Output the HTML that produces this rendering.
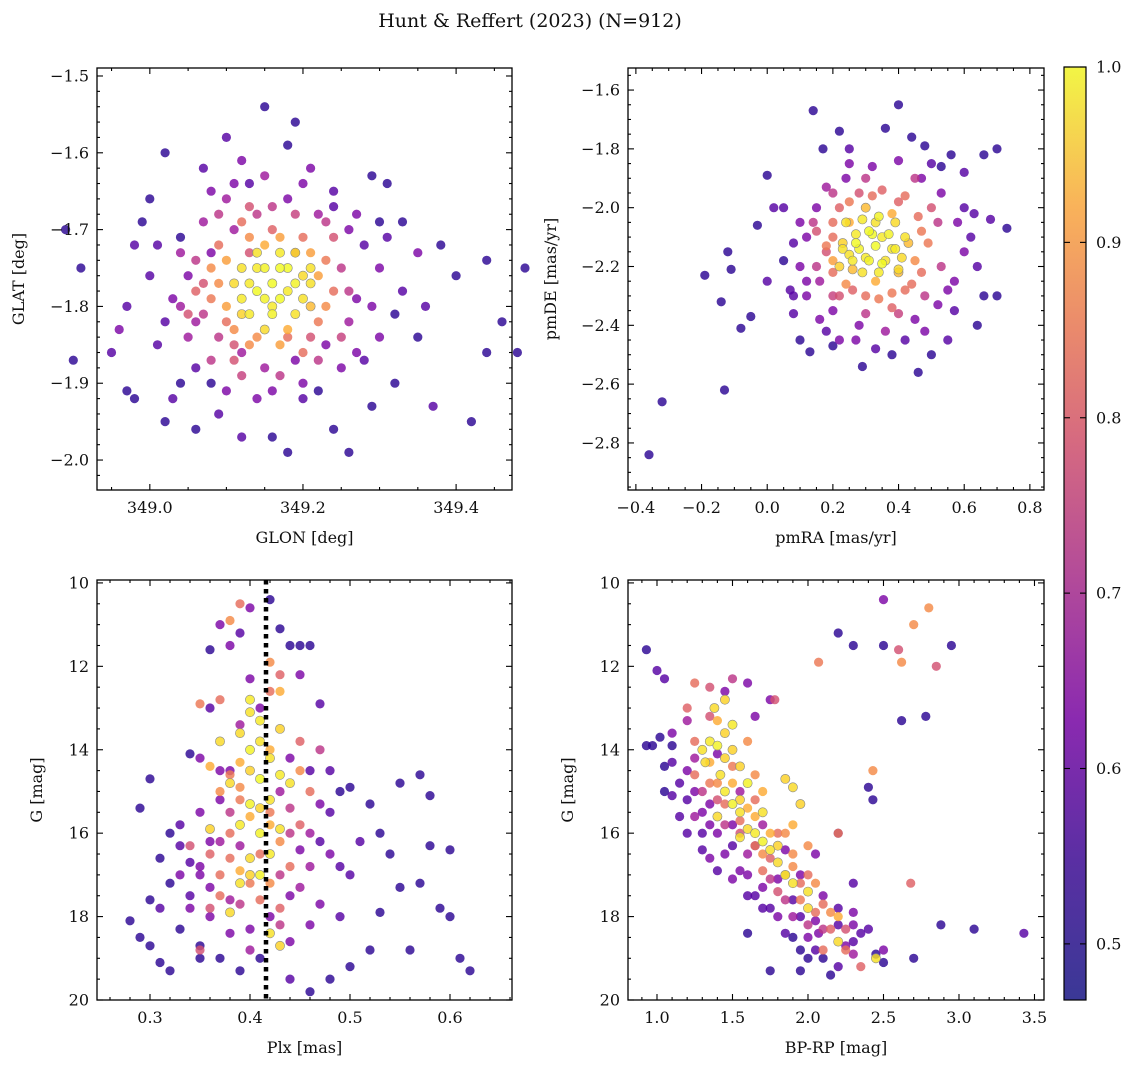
<!DOCTYPE html>
<html><head><meta charset="utf-8">
<style>
html,body{margin:0;padding:0;background:#fff;}
svg text{font-family:"DejaVu Serif","Liberation Serif",serif;fill:#111;}
</style></head>
<body>
<svg id="fig" width="1136" height="1067" viewBox="0 0 1136 1067" xmlns="http://www.w3.org/2000/svg">
<defs>
<linearGradient id="cbg" x1="0" y1="1" x2="0" y2="0">
<stop offset="0" stop-color="#3a3896"/>
<stop offset="0.15" stop-color="#5a2fa3"/>
<stop offset="0.3" stop-color="#8a2ab0"/>
<stop offset="0.45" stop-color="#b24a9a"/>
<stop offset="0.6" stop-color="#d66a80"/>
<stop offset="0.72" stop-color="#ea8a6c"/>
<stop offset="0.85" stop-color="#f9b25a"/>
<stop offset="1" stop-color="#f2f545"/>
</linearGradient>
</defs>
<text x="530" y="27" font-size="19" text-anchor="middle">Hunt &amp; Reffert (2023) (N=912)</text>
</svg>
<script>
// Panel 1: GLON / GLAT
const glon=[348.89,348.90,348.91,348.95,348.96,348.97,348.98,348.99,349.0,349.02,349.04,349.07,349.08,349.10,349.12,349.15,349.19,349.18,349.21,349.24,349.29,349.31,349.33,349.38,349.40,349.44,349.49,349.46,349.44,349.48,349.42,349.37,349.32,349.29,349.26,349.24,349.18,349.16,349.12,349.06,349.02,349.03,348.97,348.98,349.04,349.08,349.10,349.20,349.22,349.28,349.35,349.36,349.33,349.30,349.28,349.26,349.22,349.18,349.14,349.11,349.08,349.05,349.03,349.06,349.09,349.12,349.15,349.19,349.23,349.26,349.27,349.01,349.00,349.25,349.14,349.09,349.30,349.35,
349.09,349.12,349.16,349.20,349.23,349.24,349.22,349.18,349.14,349.10,349.08,349.08,349.06,349.13,349.19,349.21,349.11,349.05,
349.14,349.17,349.19,349.12,349.15,349.18,349.21,349.11,349.13,349.16,349.19,349.21,349.12,349.15,349.17,349.20,349.13,349.16,349.19,349.15];
const glat=[-1.70,-1.87,-1.75,-1.86,-1.83,-1.80,-1.72,-1.69,-1.66,-1.60,-1.71,-1.62,-1.65,-1.58,-1.61,-1.54,-1.56,-1.59,-1.62,-1.67,-1.63,-1.64,-1.69,-1.72,-1.76,-1.74,-1.75,-1.82,-1.86,-1.86,-1.95,-1.93,-1.90,-1.93,-1.99,-1.96,-1.99,-1.97,-1.97,-1.96,-1.95,-1.92,-1.91,-1.92,-1.90,-1.90,-1.91,-1.92,-1.91,-1.87,-1.84,-1.80,-1.78,-1.75,-1.72,-1.70,-1.68,-1.66,-1.68,-1.70,-1.73,-1.76,-1.79,-1.82,-1.84,-1.86,-1.88,-1.87,-1.85,-1.82,-1.79,-1.85,-1.76,-1.88,-1.92,-1.94,-1.69,-1.73,
-1.72,-1.69,-1.70,-1.71,-1.74,-1.78,-1.82,-1.84,-1.84,-1.82,-1.79,-1.75,-1.78,-1.73,-1.73,-1.84,-1.85,-1.81,
-1.73,-1.73,-1.73,-1.75,-1.75,-1.75,-1.75,-1.77,-1.77,-1.77,-1.77,-1.77,-1.79,-1.79,-1.79,-1.79,-1.81,-1.81,-1.81,-1.83];
const p1=[.5,.5,.5,.55,.6,.55,.55,.5,.5,.5,.5,.55,.6,.55,.6,.5,.5,.5,.6,.55,.5,.5,.5,.5,.5,.5,.5,.5,.5,.5,.5,.55,.5,.5,.5,.5,.5,.5,.55,.5,.5,.55,.5,.5,.5,.5,.6,.55,.5,.55,.5,.55,.55,.6,.55,.6,.65,.6,.7,.65,.6,.6,.6,.65,.7,.65,.65,.6,.6,.65,.6,.55,.55,.6,.6,.55,.5,.6,
.8,.8,.78,.8,.82,.8,.82,.8,.85,.8,.82,.85,.78,.75,.78,.75,.75,.75,
.97,.98,.96,.97,.99,1,.97,.96,.98,1,.99,.97,.98,.99,1,.97,.98,.99,.97,.96];
const glonB=[349.06,349.07,349.07,349.09,349.10,349.10,349.11,349.13,349.15,349.17,349.21,349.22,349.23,349.21,349.18,349.17,349.13,349.12,349.14,349.17,349.18,349.14,349.16,349.20,349.13,349.16,349.19,349.24,349.25,349.26,349.25,349.22,349.17,349.12,349.08,349.05,349.04,349.04,349.07,349.10,349.11,349.15,349.20,349.27,349.29,349.30,349.27,349.20,349.16,349.06,349.02,349.01,349.13,349.24,349.32,349.31,349.09,349.23,349.11,349.20];
const glatB=[-1.74,-1.77,-1.81,-1.77,-1.74,-1.80,-1.83,-1.71,-1.72,-1.71,-1.73,-1.76,-1.80,-1.80,-1.83,-1.85,-1.85,-1.81,-1.78,-1.75,-1.78,-1.75,-1.80,-1.76,-1.67,-1.67,-1.68,-1.71,-1.75,-1.78,-1.84,-1.87,-1.89,-1.89,-1.87,-1.84,-1.80,-1.73,-1.69,-1.66,-1.64,-1.63,-1.64,-1.68,-1.80,-1.84,-1.86,-1.90,-1.91,-1.88,-1.82,-1.72,-1.64,-1.65,-1.81,-1.71,-1.68,-1.69,-1.87,-1.86];
const p1B=[.7,.75,.7,.85,.88,.88,.85,.85,.9,.88,.88,.88,.85,.92,.9,.88,.85,.95,1,1,.98,.98,.98,.96,.75,.7,.72,.75,.7,.7,.72,.7,.7,.72,.7,.65,.65,.65,.65,.65,.6,.65,.6,.6,.6,.6,.6,.6,.6,.55,.55,.55,.55,.55,.5,.55,.7,.7,.75,.8];
// Panel 2: pmRA / pmDE
const pmra=[-0.36,-0.32,-0.13,-0.19,-0.14,-0.12,-0.11,-0.08,-0.05,-0.03,0.0,0.02,0.05,0.07,0.08,0.1,0.13,0.14,0.17,0.22,0.24,0.36,0.40,0.44,0.48,0.53,0.56,0.60,0.66,0.70,0.73,0.68,0.63,0.64,0.66,0.70,0.64,0.57,0.50,0.46,0.42,0.38,0.29,0.22,0.20,0.16,0.12,0.10,0.12,0.15,0.18,0.25,0.32,0.40,0.47,0.53,0.58,0.60,0.57,0.52,0.45,0.36,0.28,0.20,0.16,0.08,0.05,0.00,0.62,0.55,0.33,
0.20,0.25,0.32,0.40,0.46,0.49,0.47,0.42,0.34,0.26,0.20,0.18,0.22,0.50,0.15,0.38,
0.24,0.29,0.34,0.39,0.27,0.32,0.37,0.42,0.23,0.28,0.33,0.38,0.26,0.31,0.36,0.41,0.29,0.34,0.22,0.40];
const pmde=[-2.84,-2.66,-2.62,-2.23,-2.32,-2.15,-2.21,-2.41,-2.37,-2.06,-1.89,-2.0,-2.18,-2.28,-2.36,-2.45,-2.49,-1.67,-1.80,-1.74,-1.90,-1.73,-1.65,-1.76,-1.79,-1.86,-1.82,-1.88,-1.82,-1.80,-2.07,-2.04,-2.02,-2.20,-2.30,-2.30,-2.40,-2.35,-2.50,-2.56,-2.45,-2.50,-2.54,-2.45,-2.47,-2.38,-2.30,-2.20,-2.10,-2.00,-1.93,-1.85,-1.86,-1.84,-1.90,-1.95,-2.05,-2.15,-2.25,-2.33,-2.38,-2.42,-2.40,-2.35,-2.25,-2.12,-2.00,-2.25,-2.10,-2.45,-2.48,
-2.05,-1.98,-1.96,-1.98,-2.03,-2.12,-2.22,-2.28,-2.31,-2.28,-2.22,-2.13,-2.30,-2.0,-2.08,-2.34,
-2.05,-2.04,-2.03,-2.05,-2.09,-2.09,-2.09,-2.10,-2.14,-2.14,-2.13,-2.14,-2.18,-2.18,-2.18,-2.17,-2.22,-2.22,-2.20,-2.21];
const p2=[.5,.5,.5,.5,.5,.5,.5,.5,.5,.5,.5,.55,.5,.55,.55,.5,.5,.5,.5,.5,.6,.5,.5,.5,.5,.5,.5,.55,.5,.5,.5,.55,.55,.55,.5,.5,.5,.55,.5,.5,.55,.5,.5,.6,.5,.6,.6,.6,.6,.6,.65,.6,.6,.6,.6,.6,.6,.6,.6,.6,.6,.65,.6,.6,.65,.55,.55,.55,.55,.55,.55,
.8,.82,.8,.78,.8,.82,.8,.8,.82,.78,.8,.82,.75,.75,.75,.78,
.97,.98,.99,.96,.98,1,.99,.97,.97,.99,1,.98,.98,.99,.97,.96,.97,.98,.95,.96];
const pmraB=[0.18,0.20,0.22,0.28,0.35,0.42,0.47,0.45,0.44,0.38,0.30,0.24,0.20,0.25,0.30,0.38,0.43,0.40,0.33,0.26,0.23,0.27,0.31,0.35,0.39,0.35,0.30,0.25,0.33,0.15,0.14,0.20,0.30,0.45,0.52,0.53,0.48,0.40,0.30,0.20,0.12,0.10,0.25,0.55,0.50,0.60,0.18,0.08,0.48,0.27];
const pmdeB=[-2.15,-2.10,-2.00,-1.95,-1.94,-1.96,-2.08,-2.18,-2.26,-2.29,-2.30,-2.26,-2.18,-2.05,-2.00,-2.02,-2.12,-2.22,-2.25,-2.21,-2.12,-2.12,-2.08,-2.10,-2.14,-2.19,-2.17,-2.16,-2.05,-2.20,-2.05,-1.95,-1.90,-1.90,-2.05,-2.20,-2.30,-2.36,-2.36,-2.30,-2.25,-2.05,-1.80,-2.28,-1.85,-2.00,-2.42,-2.30,-2.42,-2.45];
const p2B=[.75,.8,.78,.75,.78,.8,.82,.85,.8,.82,.8,.85,.88,.9,.92,.9,.92,.92,.9,.92,.95,1,1,.98,.98,1,.98,.97,.97,.7,.7,.7,.7,.7,.7,.7,.7,.72,.7,.72,.6,.6,.55,.6,.55,.55,.55,.55,.6,.6];
// Panel 3: Plx / G
const plx=[0.28,0.29,0.30,0.29,0.30,0.31,0.32,0.31,0.30,0.32,0.33,0.33,0.34,0.34,0.35,0.35,0.34,0.36,0.37,0.39,0.38,0.40,0.42,0.43,0.44,0.45,0.46,0.45,0.47,0.48,0.49,0.50,0.52,0.53,0.55,0.57,0.58,0.58,0.60,0.59,0.60,0.61,0.62,0.56,0.55,0.53,0.52,0.50,0.48,0.46,0.44,0.41,0.39,0.37,0.32,0.35,0.36,0.37,0.38,0.48,0.50,0.51,0.47,0.46,0.49,0.54,0.57,0.33,0.36,0.38,0.40,0.44,0.42,0.45,0.46,0.47,0.35,0.39,0.43,0.44,0.41,0.40,0.39,0.46,
0.37,0.35,0.38,0.39,0.42,0.43,0.38,0.36,0.37,0.38,0.42,0.45,0.44,0.40,0.43,0.36,0.35,0.41,0.39,0.45,0.46,0.34,
0.40,0.41,0.39,0.40,0.42,0.38,0.41,0.43,0.40,0.42,0.39,0.41,0.43,0.40,0.42,0.39,0.41,0.38,0.42,0.43,0.37,0.44,0.36,0.40];
const gmag3=[18.1,18.5,17.6,15.4,14.7,16.6,17.2,19.1,18.7,16.0,15.8,18.3,17.5,16.7,19.0,18.7,14.1,11.6,11.0,11.2,11.5,10.6,10.4,11.1,11.5,11.5,11.5,12.2,12.9,14.5,15.0,14.9,15.3,16.0,14.8,14.6,15.1,16.3,16.4,17.8,18.0,19.0,19.3,18.8,17.3,17.9,18.8,19.2,19.5,19.8,19.5,19.0,19.3,19.0,19.3,17.0,16.2,15.2,14.5,16.5,17.0,16.2,17.7,18.2,18.0,16.5,17.2,17.0,18.0,17.6,18.3,18.6,18.0,17.3,16.0,15.3,15.5,16.3,15.0,14.2,13.0,12.3,13.4,14.5,
12.8,12.9,10.9,10.5,12.6,12.2,14.6,16.5,17.5,16.0,15.5,15.8,16.8,17.2,17.8,17.8,18.8,16.5,15.2,13.8,15.0,16.3,
13.1,13.3,13.6,14.0,14.2,14.8,14.7,14.6,15.3,15.2,15.8,16.0,15.9,16.6,16.5,17.2,17.0,17.9,18.4,18.7,13.8,14.8,15.9,12.8];
const p3=[.5,.5,.5,.5,.5,.5,.5,.5,.5,.5,.55,.5,.55,.55,.5,.5,.5,.5,.6,.55,.6,.6,.5,.5,.5,.5,.5,.6,.55,.55,.5,.5,.5,.5,.5,.5,.5,.5,.5,.5,.5,.5,.5,.5,.5,.5,.5,.5,.5,.5,.55,.5,.5,.5,.5,.6,.6,.6,.6,.6,.55,.55,.6,.6,.55,.5,.5,.6,.6,.65,.6,.6,.6,.65,.65,.6,.6,.65,.65,.6,.6,.6,.65,.55,
.8,.82,.85,.8,.8,.78,.82,.78,.8,.8,.82,.78,.8,.82,.78,.75,.75,.8,.82,.78,.8,.75,
.97,.98,.96,.99,.97,.96,1,.98,.99,.97,.98,.99,.97,.96,.98,.97,.99,.96,.97,.95,.96,.97,.95,.98];
const plxB=[0.37,0.38,0.39,0.40,0.41,0.42,0.43,0.44,0.45,0.44,0.38,0.37,0.39,0.40,0.42,0.43,0.41,0.39,0.37,0.36,0.35,0.34,0.40,0.42,0.43,0.41,0.39,0.37,0.36,0.45,0.46,0.47,0.44,0.38,0.40,0.43,0.33,0.31,0.35,0.48,0.49,0.36,0.42,0.43,0.47];
const gmag3B=[14.5,15.5,14.9,15.6,15.4,15.8,16.2,16.0,16.4,15.4,16.6,16.2,16.9,17.0,17.2,17.0,17.6,17.7,17.0,17.3,16.8,17.8,14.5,14.0,13.5,13.8,14.3,15.0,14.4,14.5,16.8,16.2,17.5,18.4,18.8,18.2,16.3,17.8,14.2,15.5,16.8,13.0,11.9,12.6,14.0];
const p3B=[.6,.7,.85,.9,.95,.9,.85,.7,.6,.7,.8,.65,.9,.95,.85,.7,.8,.7,.8,.6,.6,.6,.95,.9,.95,.97,.9,.85,.9,.85,.65,.55,.6,.6,.65,.7,.55,.55,.6,.55,.55,.55,.85,.9,.7];
// Panel 4: BP-RP / G
const bprp=[2.5,2.2,2.3,2.5,2.62,2.78,2.95,2.88,3.43,3.1,2.4,2.43,0.93,1.0,1.05,1.1,
0.93,0.97,1.02,1.05,1.1,1.15,1.2,1.2,1.25,1.3,1.35,1.3,1.4,1.45,1.5,1.55,1.6,1.65,1.7,1.75,1.8,1.85,1.9,1.95,2.0,2.05,2.1,2.15,2.2,1.95,2.25,2.3,2.35,2.45,2.5,2.5,2.7,2.2,2.05,1.9,1.6,1.75,1.1,1.2,1.35,1.45,1.5,1.6,1.75,1.65,1.4,1.55,1.7,1.85,1.95,2.1,2.2,2.3,2.05,2.3,2.2,2.07,1.35,1.5,1.65,1.8,1.25,1.1,2.4,1.78,
2.7,2.8,2.6,2.62,2.85,2.07,2.68,2.43,1.2,1.25,1.35,1.45,1.55,1.65,1.75,1.85,1.95,2.05,2.15,2.25,2.35,1.5,1.65,1.8,1.9,2.0,2.2,2.1,1.7,
1.3,1.35,1.32,1.4,1.42,1.45,1.38,1.45,1.5,1.55,1.6,1.65,1.55,1.7,1.75,1.8,1.85,1.9,1.95,1.9,2.0,2.0,2.2,2.45,1.5,1.6,1.7,1.4,1.85];
const gmag4=[10.4,11.2,11.5,11.5,13.3,13.2,11.5,18.2,18.4,18.3,14.9,15.2,11.6,12.1,12.3,13.9,
13.9,13.9,13.7,14.4,14.3,14.8,14.5,15.2,15.0,15.5,15.3,16.0,16.0,16.5,16.3,16.9,17.0,17.5,17.3,17.8,18.0,18.4,18.5,18.8,19.0,18.8,19.0,19.4,19.2,19.3,18.7,18.6,18.4,18.9,19.1,18.8,19.0,18.2,18.1,17.6,18.4,19.3,13.6,13.3,12.5,12.6,12.3,12.4,12.8,13.2,14.1,15.0,15.8,16.4,17.0,17.5,17.8,17.9,16.5,17.2,16.0,18.4,16.6,17.1,16.3,17.1,14.2,15.1,18.3,12.8,
11.0,10.6,11.6,11.9,12.0,11.9,17.2,14.5,13.0,13.8,14.8,15.3,15.7,16.3,16.6,17.0,17.6,17.9,18.3,18.8,19.2,14.4,15.2,16.0,16.5,17.0,16.0,18.8,16.9,
14.0,13.8,14.3,13.9,14.6,12.8,13.0,15.0,15.3,15.5,15.9,16.0,16.1,16.2,16.4,16.7,17.0,17.2,15.3,14.9,17.4,17.8,18.6,19.0,13.4,14.8,15.5,15.6,14.7];
const p4=[.6,.5,.5,.5,.5,.5,.5,.5,.55,.5,.5,.5,.5,.55,.55,.5,
.5,.5,.5,.5,.55,.55,.6,.55,.6,.6,.6,.55,.6,.6,.55,.6,.6,.55,.6,.55,.6,.55,.5,.5,.5,.55,.5,.5,.55,.5,.6,.55,.55,.5,.5,.6,.5,.55,.6,.55,.5,.5,.6,.65,.75,.6,.7,.6,.6,.6,.6,.65,.65,.6,.6,.6,.55,.6,.6,.55,.55,.6,.6,.6,.6,.6,.65,.55,.55,.75,
.85,.85,.75,.85,.75,.82,.78,.85,.78,.8,.82,.8,.8,.82,.78,.8,.82,.8,.78,.8,.78,.82,.8,.8,.85,.8,.82,.8,.8,
.97,.98,.96,.99,.97,.95,.96,.98,.99,.97,.96,.98,.97,.99,.97,.96,.98,.97,.95,.96,.97,.96,.96,.97,.98,.99,.97,.96,.95];
const bprpB=[1.25,1.3,1.35,1.4,1.45,1.5,1.5,1.55,1.45,1.55,1.6,1.6,1.65,1.7,1.7,1.75,1.75,1.8,1.8,1.85,1.85,1.9,1.9,1.95,2.0,2.05,2.1,2.1,2.15,2.2,2.25,2.3,2.0,1.95,1.7,1.6,1.4,1.3,1.2,1.15,1.05,1.5,1.35,1.25,1.4,1.65,1.55,1.4,1.35,1.25,1.45,1.9,2.0,1.6,2.3];
const gmag4B=[14.6,15.0,14.3,14.8,14.2,14.0,14.8,15.2,15.8,16.0,15.4,16.5,15.6,16.5,15.0,16.0,17.1,16.3,17.4,16.0,17.6,16.8,18.0,17.2,18.2,17.2,17.7,18.3,17.9,18.0,18.3,18.9,18.5,18.0,17.8,17.5,16.9,16.4,16.0,15.6,15.0,15.8,15.8,15.6,15.2,14.6,14.4,13.3,13.2,12.4,13.6,15.8,16.3,13.8,18.2];
const p4B=[.8,.7,.9,.85,.95,.95,.9,.95,.7,.75,.9,.65,.9,.85,.9,.9,.7,.95,.75,.85,.7,.85,.65,.8,.7,.85,.8,.7,.85,.9,.75,.65,.6,.55,.55,.55,.55,.55,.55,.55,.5,.6,.6,.65,.75,.85,.95,.9,.75,.8,.95,.9,.85,.85,.6];

const cbMin=0.468, cbMax=1.0;
const plasma=[[13,8,135],[65,4,157],[106,0,168],[143,13,164],[177,42,144],[204,71,120],[225,100,98],[242,132,75],[252,166,54],[252,206,37],[240,249,33]];
function cmap(v){let t=(v-cbMin)/(cbMax-cbMin);t=Math.max(0,Math.min(1,t))*10;const i=Math.min(9,Math.floor(t)),f=t-i;const a=plasma[i],b=plasma[i+1];return `rgb(${Math.round(a[0]+(b[0]-a[0])*f)},${Math.round(a[1]+(b[1]-a[1])*f)},${Math.round(a[2]+(b[2]-a[2])*f)})`;}

const NS='http://www.w3.org/2000/svg';
const svg=document.getElementById('fig');
function mk(tag,attrs,parent){const e=document.createElementNS(NS,tag);for(const k in attrs)e.setAttribute(k,attrs[k]);(parent||svg).appendChild(e);return e;}

function panel(o){
  const g=mk('g',{});
  
  
  const sx=v=>o.x0+(v-o.xmin)/(o.xmax-o.xmin)*(o.x1-o.x0);
  const sy=o.yrev?(v=>o.y0+(v-o.ymin)/(o.ymax-o.ymin)*(o.y1-o.y0)):(v=>o.y1-(v-o.ymin)/(o.ymax-o.ymin)*(o.y1-o.y0));
  const idx=o.xs.map((_,i)=>i).sort((a,b)=>o.ps[a]-o.ps[b]);
  const pts=mk('g',{},g);
  
  
  idx.forEach(i=>{
    const c=mk('circle',{cx:sx(o.xs[i]).toFixed(1),cy:sy(o.ys[i]).toFixed(1),r:4.6,fill:cmap(o.ps[i]),'fill-opacity':0.82,stroke:o.ps[i]>0.9?'#888':'none','stroke-width':0.6},pts);
    
    
  });
  if(o.vline!==undefined){
    const l=mk('line',{x1:sx(o.vline),x2:sx(o.vline),y1:o.y0,y2:o.y1,stroke:'#000','stroke-width':4.5,'stroke-dasharray':'4.5 4.5'},g);
    
    
  }
  const fr=mk('rect',{x:o.x0,y:o.y0,width:o.x1-o.x0,height:o.y1-o.y0,fill:'none',stroke:'#000','stroke-width':1.3},g);
  
  
  const tk=mk('g',{stroke:'#000','stroke-width':1.1},g);
  const eps=1e-9;
  for(let v=Math.ceil(o.xmin/o.xminor-eps)*o.xminor;v<=o.xmax+eps;v+=o.xminor){
    const X=sx(v);const maj=Math.abs(v/o.xmajor-Math.round(v/o.xmajor))<1e-6;const L=maj?6:3;
    mk('line',{x1:X,x2:X,y1:o.y1,y2:o.y1-L},tk);mk('line',{x1:X,x2:X,y1:o.y0,y2:o.y0+L},tk);
  }
  for(let v=Math.ceil(o.ymin/o.yminor-eps)*o.yminor;v<=o.ymax+eps;v+=o.yminor){
    const Y=sy(v);const maj=Math.abs(v/o.ymajor-Math.round(v/o.ymajor))<1e-6;const L=maj?6:3;
    mk('line',{x1:o.x0,x2:o.x0+L,y1:Y,y2:Y},tk);mk('line',{x1:o.x1,x2:o.x1-L,y1:Y,y2:Y},tk);
  }
  o.xticks.forEach((v,i)=>{const t=mk('text',{x:sx(v),y:o.y1+23,'font-size':16,'text-anchor':'middle'},g);t.textContent=o.xlabels[i];
    
    });
  o.yticks.forEach((v,i)=>{const t=mk('text',{x:o.x0-8,y:sy(v)+5.5,'font-size':16,'text-anchor':'end'},g);t.textContent=o.ylabels[i];
    
    });
  const xt=mk('text',{x:(o.x0+o.x1)/2,y:o.y1+53,'font-size':16,'text-anchor':'middle'},g);xt.textContent=o.xlabel;
  
  
  const yt=mk('text',{x:0,y:0,'font-size':16,'text-anchor':'middle',transform:`translate(${o.ylx},${(o.y0+o.y1)/2}) rotate(-90)`},g);yt.textContent=o.ylabel;
  
  
}

const p1xt=[349.0,349.2,349.4], p1xl=['349.0','349.2','349.4'];
const p1yt=[-1.5,-1.6,-1.7,-1.8,-1.9,-2.0], p1yl=['\u22121.5','\u22121.6','\u22121.7','\u22121.8','\u22121.9','\u22122.0'];
panel({name:'panel-glon-glat',x0:97,x1:512,y0:68,y1:490,xmin:348.931,xmax:349.473,ymin:-2.039,ymax:-1.4896,xs:glon.concat(glonB),ys:glat.concat(glatB),ps:p1.concat(p1B),
 xmajor:0.2,xminor:0.05,ymajor:0.1,yminor:0.02,xticks:p1xt,xlabels:p1xl,yticks:p1yt,ylabels:p1yl,xlabel:'GLON [deg]',ylabel:'GLAT [deg]',ylx:24});

const p2xt=[-0.4,-0.2,0.0,0.2,0.4,0.6,0.8], p2xl=['\u22120.4','\u22120.2','0.0','0.2','0.4','0.6','0.8'];
const p2yt=[-1.6,-1.8,-2.0,-2.2,-2.4,-2.6,-2.8], p2yl=['\u22121.6','\u22121.8','\u22122.0','\u22122.2','\u22122.4','\u22122.6','\u22122.8'];
panel({name:'panel-pmra-pmde',x0:628,x1:1044,y0:68,y1:490,xmin:-0.424,xmax:0.843,ymin:-2.96,ymax:-1.525,xs:pmra.concat(pmraB),ys:pmde.concat(pmdeB),ps:p2.concat(p2B),
 xmajor:0.2,xminor:0.05,ymajor:0.2,yminor:0.05,xticks:p2xt,xlabels:p2xl,yticks:p2yt,ylabels:p2yl,xlabel:'pmRA [mas/yr]',ylabel:'pmDE [mas/yr]',ylx:556});

const p3xt=[0.3,0.4,0.5,0.6], p3xl=['0.3','0.4','0.5','0.6'];
const gyt=[10,12,14,16,18,20], gyl=['10','12','14','16','18','20'];
panel({name:'panel-plx-g',x0:97,x1:512,y0:580,y1:1000,xmin:0.247,xmax:0.662,ymin:9.93,ymax:20,yrev:true,xs:plx.concat(plxB),ys:gmag3.concat(gmag3B),ps:p3.concat(p3B),vline:0.416,
 xmajor:0.1,xminor:0.02,ymajor:2,yminor:0.5,xticks:p3xt,xlabels:p3xl,yticks:gyt,ylabels:gyl,xlabel:'Plx [mas]',ylabel:'G [mag]',ylx:42});

const p4xt=[1.0,1.5,2.0,2.5,3.0,3.5], p4xl=['1.0','1.5','2.0','2.5','3.0','3.5'];
panel({name:'panel-bprp-g',x0:628,x1:1044,y0:580,y1:1000,xmin:0.808,xmax:3.563,ymin:9.93,ymax:20,yrev:true,xs:bprp.concat(bprpB),ys:gmag4.concat(gmag4B),ps:p4.concat(p4B),
 xmajor:0.5,xminor:0.1,ymajor:2,yminor:0.5,xticks:p4xt,xlabels:p4xl,yticks:gyt,ylabels:gyl,xlabel:'BP-RP [mag]',ylabel:'G [mag]',ylx:573});

const cbTicks=[0.5,0.6,0.7,0.8,0.9,1.0], cbLabels=['0.5','0.6','0.7','0.8','0.9','1.0'];
const cb=mk('g',{});


const cbx0=1064,cbx1=1086,cby0=67,cby1=1000;
const cyv=v=>cby1-(v-cbMin)/(cbMax-cbMin)*(cby1-cby0);
mk('rect',{x:cbx0,y:cby0,width:cbx1-cbx0,height:cby1-cby0,fill:'url(#cbg)',stroke:'#000','stroke-width':1.2},cb);
cbTicks.forEach((v,i)=>{const Y=cyv(v);mk('line',{x1:cbx1,x2:cbx1-6,y1:Y,y2:Y,stroke:'#000','stroke-width':1.1},cb);mk('line',{x1:cbx0,x2:cbx0+6,y1:Y,y2:Y,stroke:'#000','stroke-width':1.1},cb);
  const t=mk('text',{x:cbx1+10,y:Y+5.5,'font-size':16},cb);t.textContent=cbLabels[i];
  
  });
</script>
</body></html>
